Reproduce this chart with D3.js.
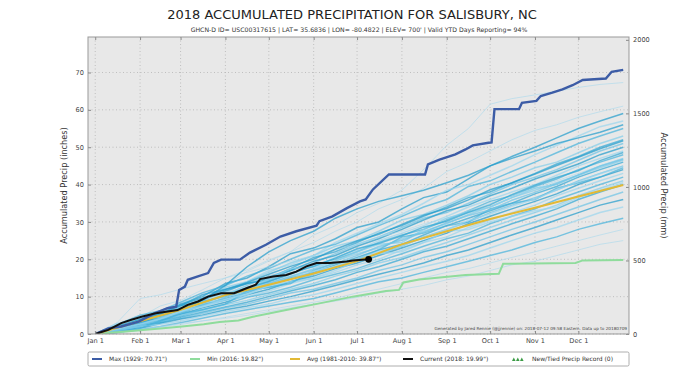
<!DOCTYPE html>
<html>
<head>
<meta charset="utf-8">
<script src="https://cdn.jsdelivr.net/npm/d3@7"></script>
<style>
  body { margin: 0; background: #fff; }
  svg { display: block; font-family: "DejaVu Sans", sans-serif; }
</style>
</head>
<body>
<svg id="chart" width="700" height="374"></svg>
<script>
// ---- data (day of year, 0 = Jan 1; precip in inches) ----
const monthDays = [0, 31, 59, 90, 120, 151, 181, 212, 243, 273, 304, 334];
const monthLabels = ["Jan 1", "Feb 1", "Mar 1", "Apr 1", "May 1", "Jun 1",
                     "Jul 1", "Aug 1", "Sep 1", "Oct 1", "Nov 1", "Dec 1"];
const inchTicks = [0, 10, 20, 30, 40, 50, 60, 70];
const mmTicks = [0, 500, 1000, 1500, 2000];

// historical years, sampled twice a month
const histDays = [0, 15, 31, 45, 59, 74, 90, 105, 120, 135, 151, 166, 181,
                  196, 212, 227, 243, 258, 273, 288, 304, 319, 334, 349, 365];
const histYears = [
  [0,1.5,3.8,5.0,8.2,10.5,13.0,16.8,19.5,22.0,26.5,29.0,32.5,35.0,38.5,44.0,50.5,55.0,61.5,63.0,64.0,65.0,66.0,66.8,67.3],
  [0,2.0,4.5,7.5,9.0,11.8,15.0,17.2,19.8,22.0,24.5,27.5,30.0,33.5,36.0,39.0,43.5,46.0,49.0,52.0,54.5,56.0,58.0,59.5,61.0],
  [0,0.8,3.0,5.5,8.0,10.0,13.5,15.0,18.0,21.5,23.0,25.5,28.5,30.0,33.5,36.5,38.0,41.5,45.0,47.5,50.0,52.5,55.0,57.0,59.0],
  [0,1.2,2.5,4.0,6.5,9.5,11.0,14.0,17.0,18.5,21.0,24.5,27.0,29.5,32.0,35.0,38.5,40.0,42.5,45.0,48.0,50.5,53.0,55.5,57.0],
  [0,2.5,5.0,6.2,8.5,11.0,13.0,15.5,17.5,20.0,22.5,24.0,26.5,29.0,31.5,34.0,36.0,39.5,41.0,43.5,46.0,48.5,51.0,53.0,55.0],
  [0,1.0,3.5,5.8,7.0,9.2,12.5,14.0,16.5,19.0,21.0,23.5,25.0,27.5,30.5,32.0,34.5,37.0,40.0,42.0,44.5,46.0,48.5,51.0,53.0],
  [0,1.8,2.8,5.0,7.5,10.5,12.0,13.5,15.0,17.5,20.5,22.0,24.5,27.0,29.0,31.5,34.0,36.5,38.0,40.5,43.0,45.5,47.5,50.0,52.0],
  [0,0.5,2.0,4.5,6.0,8.0,10.5,13.0,15.5,17.0,19.0,21.5,24.0,26.0,28.5,31.0,32.5,35.0,37.5,40.0,42.0,44.0,46.5,49.0,51.0],
  [0,1.5,4.0,5.5,7.5,9.0,11.5,13.5,14.5,17.0,19.5,21.0,23.5,25.5,28.0,30.5,33.0,34.5,37.0,39.0,41.5,43.5,45.5,48.0,50.0],
  [0,2.2,3.5,5.0,6.8,8.5,11.0,12.5,14.5,16.5,18.0,20.5,22.5,25.0,27.0,29.0,31.5,34.0,36.0,38.0,40.0,42.5,45.0,47.0,49.0],
  [0,0.9,2.8,4.2,6.5,8.8,10.0,12.0,14.0,16.0,18.5,20.0,22.0,24.5,26.5,28.0,30.5,33.0,35.5,37.0,39.5,41.5,44.0,46.0,48.0],
  [0,1.6,3.2,5.5,7.0,8.2,10.2,12.5,13.5,15.5,17.5,19.5,21.5,23.0,25.5,27.5,29.5,32.0,34.0,36.5,38.5,40.5,42.5,45.0,47.0],
  [0,1.0,2.4,3.8,5.5,7.8,9.5,11.0,13.0,15.0,16.5,18.5,20.5,22.5,24.0,26.5,29.0,31.0,33.0,35.0,37.5,39.5,42.0,44.0,46.0],
  [0,1.4,3.6,4.8,6.0,7.5,9.8,11.5,12.5,14.0,16.0,18.0,20.0,21.5,23.5,26.0,28.0,30.0,32.5,34.5,36.5,38.5,41.0,43.0,45.0],
  [0,0.6,2.0,3.5,5.2,7.0,8.5,10.5,12.0,14.0,15.5,17.5,19.0,21.0,23.0,25.0,27.0,29.5,31.5,33.5,35.5,37.5,40.0,42.0,44.0],
  [0,1.9,3.0,4.5,6.2,7.2,9.0,10.0,11.5,13.5,15.0,16.5,18.5,20.0,22.5,24.5,26.0,28.5,30.5,32.5,34.5,37.0,39.0,41.0,43.0],
  [0,0.8,2.5,3.2,4.8,6.5,8.0,9.8,11.0,12.5,14.5,16.0,17.5,19.5,21.5,23.5,25.5,27.0,29.5,31.5,33.5,36.0,38.0,40.0,42.0],
  [0,1.3,2.2,4.0,5.0,6.2,7.8,9.0,10.5,12.0,13.5,15.5,17.0,19.0,20.5,22.5,24.5,26.5,28.5,30.5,32.5,34.5,37.0,39.0,41.0],
  [0,0.7,1.8,3.0,4.5,5.8,7.2,8.5,10.0,11.5,13.0,14.5,16.5,18.0,20.0,22.0,23.5,25.5,27.5,29.5,31.5,33.5,36.0,38.0,40.0],
  [0,1.1,2.6,3.4,4.2,5.5,7.0,8.0,9.5,11.0,12.0,13.5,15.0,17.0,18.5,20.5,22.0,24.0,26.0,28.0,30.0,32.0,34.0,36.0,38.0],
  [0,0.4,1.5,2.8,4.0,5.0,6.5,7.5,8.8,10.0,11.5,13.0,14.5,16.0,17.5,19.0,21.0,22.5,24.5,26.5,28.5,30.5,32.5,34.5,36.0],
  [0,1.0,2.0,2.6,3.5,4.8,6.0,7.0,8.0,9.5,10.5,12.0,13.5,15.0,16.5,18.0,19.5,21.0,23.0,25.0,27.0,28.5,30.5,32.5,34.0],
  [0,0.5,1.2,2.0,3.0,4.2,5.5,6.5,7.5,8.5,9.5,11.0,12.5,14.0,15.0,16.5,18.0,19.5,21.0,22.5,24.5,26.0,28.0,29.5,31.0],
  [0,0.3,1.0,1.8,2.5,3.5,4.5,5.5,6.5,7.5,8.5,9.5,11.0,12.0,13.5,15.0,16.5,17.5,19.0,20.5,22.0,23.5,25.0,26.5,28.0],
  [0,0.6,1.4,2.0,2.8,3.5,4.2,5.0,6.0,7.0,8.0,8.8,9.8,11.0,12.0,13.0,14.5,15.5,17.0,18.5,19.5,21.0,22.5,24.0,25.0],
  [0,3.0,9.5,10.5,12.0,13.5,15.0,16.5,18.0,19.5,21.0,22.5,24.0,26.0,27.5,29.5,31.0,33.0,35.0,37.0,39.0,41.0,43.0,45.0,47.0],
  [0,1.5,3.0,4.5,6.5,9.0,13.0,18.0,22.0,25.0,27.5,31.0,33.5,35.5,37.0,38.5,40.5,42.5,45.0,47.0,49.0,51.0,52.5,54.0,56.0],
  [0,2.8,4.0,4.5,6.0,8.5,9.0,10.5,13.0,14.0,15.0,17.0,19.5,21.5,22.0,24.5,27.5,28.0,30.0,31.5,33.0,34.0,36.5,38.5,40.5],
  [0,0.5,1.5,3.5,5.5,6.5,8.0,11.5,12.5,13.5,17.0,19.0,20.0,22.5,26.0,27.0,29.0,30.0,33.5,35.0,36.0,39.0,40.5,42.0,44.5],
  [0,1.2,3.8,6.0,7.2,8.0,10.8,12.0,14.8,17.5,18.0,19.5,22.0,24.0,24.5,28.0,31.0,32.5,34.0,36.5,39.0,40.0,42.5,44.5,46.5],
  [0,1.7,3.3,4.9,6.9,8.4,10.4,12.3,14.1,16.2,18.1,20.3,22.8,24.2,26.3,28.6,30.2,32.6,34.6,37.3,39.8,41.9,43.7,46.4,48.6],
  [0,0.9,2.1,4.4,5.6,7.7,9.1,11.2,13.6,15.3,17.2,18.9,21.0,23.4,25.1,27.2,29.8,31.7,33.2,35.8,37.9,40.2,42.6,44.9,46.8],
  [0,2.1,3.9,5.3,7.8,9.6,11.9,13.8,16.0,18.1,20.0,22.7,24.9,26.7,29.3,31.8,33.6,35.9,38.6,40.4,42.8,45.1,47.3,49.6,51.7],
  [0,1.4,2.7,4.1,6.0,7.4,9.3,10.7,12.9,14.7,16.8,18.1,20.1,22.1,23.7,25.8,27.9,30.4,32.1,34.2,36.1,38.6,40.8,42.9,44.8]
];

const maxDays = [0,9,18,30,41,50,56,58,62,64,71,78,82,87,100,107,118,128,139,153,155,164,174,183,187,192,203,210,228,230,238,249,256,261,272,274,276,293,295,305,308,316,323,330,337,353,357,365];
const maxVals = [0,1.5,2.0,3.3,5.5,6.9,7.3,11.8,12.7,14.5,15.4,16.3,19.0,19.9,19.9,21.8,23.9,26.1,27.5,29.0,30.2,31.5,33.7,35.5,36.0,38.7,42.7,42.7,42.7,45.4,46.7,48.1,49.4,50.5,51.2,51.3,60.2,60.2,61.9,62.4,63.7,64.6,65.5,66.6,68.0,68.4,70.2,70.71];

const minDays = [0,15,31,45,60,75,86,99,109,132,155,178,201,210,213,224,256,279,282,332,337,365];
const minVals = [0,0.5,1.0,1.5,2.0,2.6,3.2,3.6,4.6,6.4,8.2,10.0,11.5,11.8,13.8,14.6,15.8,16.1,18.8,19.0,19.7,19.82];

const avgDays = [0,31,59,90,120,151,181,212,243,273,304,334,365];
const avgVals = [0,3.4,6.5,10.4,13.2,16.2,19.5,24.0,27.5,30.8,33.8,36.8,39.87];

const curDays = [0,9,18,25,32,41,50,57,64,71,78,87,96,105,111,114,123,132,139,146,153,162,174,178,189];
const curVals = [0,1.1,2.9,3.8,4.6,5.5,6.0,6.4,7.8,8.7,10.0,10.9,10.9,12.3,13.2,14.7,15.4,15.8,16.7,18.1,19.0,19.0,19.4,19.7,19.99];

const legendLabels = ["Max (1929:  70.71\")", "Min (2016:  19.82\")",
  "Avg (1981-2010:  39.87\")", "Current (2018:  19.99\")", "New/Tied Precip Record (0)"];

// ---- layout ----
const W = 700, H = 374;
const margin = { top: 37, right: 71, bottom: 40, left: 88 };
const innerW = W - margin.left - margin.right;
const innerH = H - margin.top - margin.bottom;

const x = d3.scaleLinear().domain([-5, 369]).range([0, innerW]);
const y = d3.scaleLinear().domain([0, 79.5]).range([innerH, 0]);
const yMM = d3.scaleLinear().domain([0, 79.5 * 25.4]).range([innerH, 0]);

const svg = d3.select("#chart");
svg.append("rect").attr("width", W).attr("height", H).attr("fill", "#fff");

svg.append("text").attr("x", 352).attr("y", 19)
  .attr("text-anchor", "middle").attr("font-size", 13).attr("fill", "#222")
  .text("2018 ACCUMULATED PRECIPITATION FOR SALISBURY, NC");
svg.append("text").attr("x", 359).attr("y", 32)
  .attr("text-anchor", "middle").attr("font-size", 6.2).attr("fill", "#333")
  .text("GHCN-D ID= USC00317615 | LAT= 35.6836 | LON= -80.4822 | ELEV= 700' | Valid YTD Days Reporting= 94%");

const clipId = "plot-clip";
svg.append("defs").append("clipPath").attr("id", clipId)
  .append("rect").attr("width", innerW).attr("height", innerH);

const root = svg.append("g").attr("transform", `translate(${margin.left},${margin.top})`);
root.append("rect").attr("width", innerW).attr("height", innerH).attr("fill", "#e8e8e8");

// dotted grid
root.append("g").selectAll("line").data(monthDays).enter().append("line")
  .attr("x1", d => x(d)).attr("x2", d => x(d)).attr("y1", 0).attr("y2", innerH)
  .attr("stroke", "#b4b4b4").attr("stroke-width", 0.8).attr("stroke-dasharray", "1,2.5");
root.append("g").selectAll("line").data(inchTicks).enter().append("line")
  .attr("x1", 0).attr("x2", innerW).attr("y1", d => y(d)).attr("y2", d => y(d))
  .attr("stroke", "#b4b4b4").attr("stroke-width", 0.8).attr("stroke-dasharray", "1,2.5");

const clipped = root.append("g").attr("clip-path", `url(#${clipId})`);

const histColors = ["#2fa6d4", "#6cc3e6", "#1f9bcc", "#9ad6ee", "#45b2dc", "#82cdea"];
const faint = [0, 1, 23, 24, 25];
const histLine = d3.line().x((d, i) => x(histDays[i])).y(d => y(d));
clipped.append("g").selectAll("path").data(histYears).enter().append("path")
  .attr("d", histLine)
  .attr("fill", "none")
  .attr("stroke", (d, i) => faint.includes(i) ? "#a8d8ec" : histColors[i % histColors.length])
  .attr("stroke-opacity", (d, i) => faint.includes(i) ? 0.6 : 0.7)
  .attr("stroke-width", (d, i) => faint.includes(i) ? 1 : 1.5);

function seriesLine(days, vals) {
  return d3.line().x((d, i) => x(days[i])).y(d => y(d))(vals);
}
clipped.append("path").attr("d", seriesLine(minDays, minVals))
  .attr("fill", "none").attr("stroke", "#8fdc9c").attr("stroke-width", 2);
clipped.append("path").attr("d", seriesLine(avgDays, avgVals))
  .attr("fill", "none").attr("stroke", "#e2b935").attr("stroke-width", 2);
clipped.append("path").attr("d", seriesLine(maxDays, maxVals))
  .attr("fill", "none").attr("stroke", "#3c5ca6").attr("stroke-width", 2.4);
clipped.append("path").attr("d", seriesLine(curDays, curVals))
  .attr("fill", "none").attr("stroke", "#111").attr("stroke-width", 2);
root.append("circle")
  .attr("cx", x(curDays[curDays.length - 1])).attr("cy", y(curVals[curVals.length - 1]))
  .attr("r", 3.4).attr("fill", "#000");

// credit line
root.append("text").attr("x", innerW - 2).attr("y", innerH - 4)
  .attr("text-anchor", "end").attr("font-size", 4.2).attr("fill", "#444")
  .text("Generated by Jared Rennie (@jjrennie) on: 2018-07-12 09:58 Eastern. Data up to 20180709");

// axes
const tickFont = 6.6, tickCol = "#444";
function styleAxis(g) {
  g.select(".domain").remove();
  g.selectAll(".tick line").attr("stroke", "#888");
  g.selectAll(".tick text").attr("font-size", tickFont).attr("fill", tickCol)
    .attr("font-family", "DejaVu Sans, sans-serif");
}
root.append("g").attr("transform", `translate(0,${innerH})`)
  .call(d3.axisBottom(x).tickValues(monthDays).tickFormat((d, i) => monthLabels[i])
    .tickSizeInner(-3).tickSizeOuter(0).tickPadding(4))
  .call(styleAxis);
root.append("g")
  .call(d3.axisTop(x).tickValues(monthDays).tickFormat("").tickSizeInner(-3).tickSizeOuter(0))
  .call(styleAxis);
root.append("g")
  .call(d3.axisLeft(y).tickValues(inchTicks).tickFormat(d3.format("d"))
    .tickSizeInner(-3).tickSizeOuter(0).tickPadding(4))
  .call(styleAxis);
root.append("g").attr("transform", `translate(${innerW},0)`)
  .call(d3.axisRight(yMM).tickValues(mmTicks).tickFormat(d3.format("d"))
    .tickSizeInner(-3).tickSizeOuter(0).tickPadding(4))
  .call(styleAxis);

root.append("rect").attr("width", innerW).attr("height", innerH)
  .attr("fill", "none").attr("stroke", "#999").attr("stroke-width", 1);

root.append("text").attr("transform", "rotate(-90)")
  .attr("x", -innerH / 2).attr("y", -21)
  .attr("text-anchor", "middle").attr("font-size", 8.2).attr("fill", "#333")
  .text("Accumulated Precip (inches)");
root.append("text").attr("transform", "rotate(90)")
  .attr("x", innerH / 2).attr("y", -innerW - 32)
  .attr("text-anchor", "middle").attr("font-size", 8.2).attr("fill", "#333")
  .text("Accumulated Precip (mm)");

// legend
const leg = svg.append("g").attr("transform", `translate(${margin.left},352)`);
leg.append("rect").attr("width", innerW).attr("height", 14).attr("rx", 1.5)
  .attr("fill", "#fff").attr("stroke", "#999").attr("stroke-width", 0.8);
const legX = [4, 102, 202, 315, 424];
const legColors = ["#3c5ca6", "#8fdc9c", "#e2b935", "#111", "#3b9b45"];
legendLabels.forEach((lab, i) => {
  const g = leg.append("g").attr("transform", `translate(${legX[i]},7)`);
  if (i < 4) {
    g.append("line").attr("x1", 0).attr("x2", 10).attr("y1", 0).attr("y2", 0)
      .attr("stroke", legColors[i]).attr("stroke-width", 2);
  } else {
    [0, 4, 8].forEach(dx => {
      g.append("path").attr("d", `M${dx},2L${dx + 1.8},-1.6L${dx + 3.6},2Z`)
        .attr("fill", legColors[i]);
    });
  }
  g.append("text").attr("x", i < 4 ? 17 : 20).attr("y", 2.2)
    .attr("font-size", 6).attr("fill", "#333").text(lab);
});
</script>
</body>
</html>
